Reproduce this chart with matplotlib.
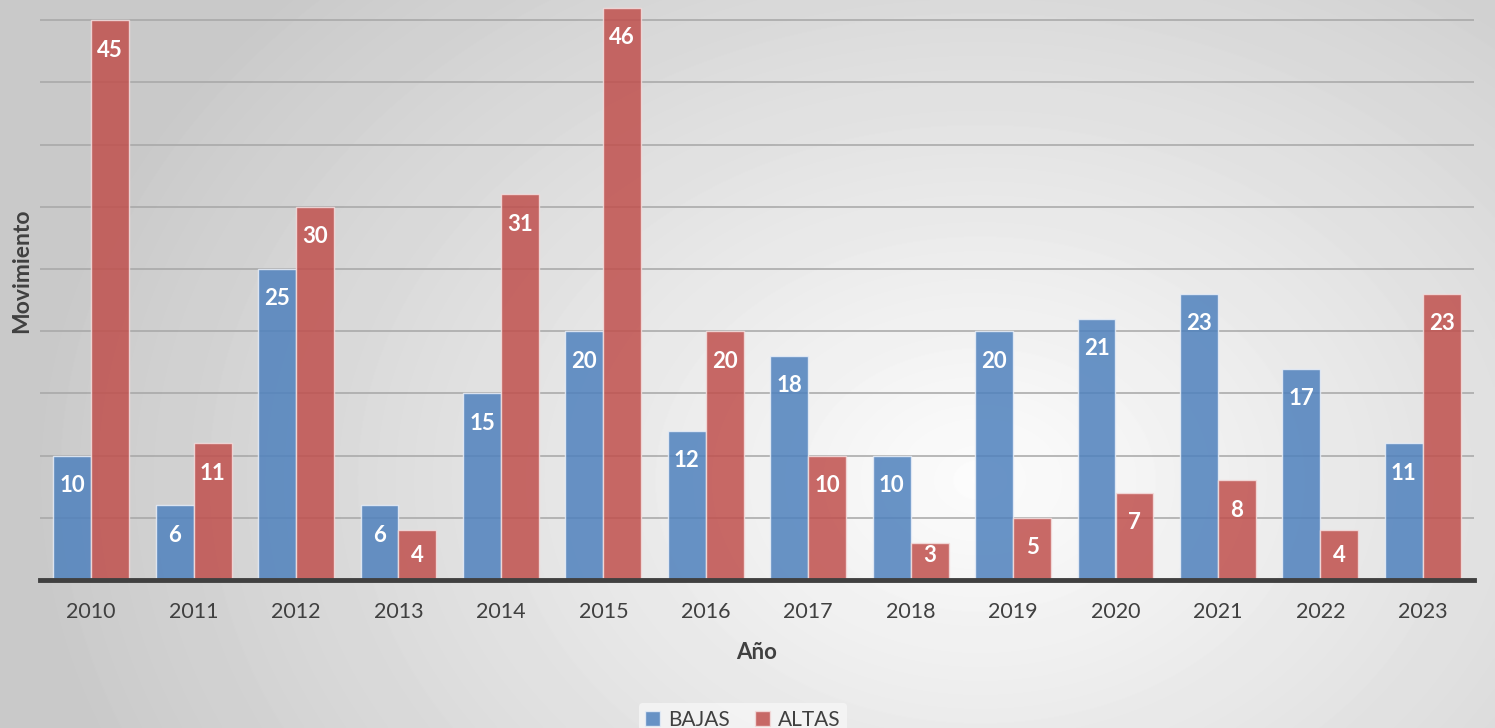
import numpy as np
import matplotlib.pyplot as plt

years = ['2010', '2011', '2012', '2013', '2014', '2015', '2016',
         '2017', '2018', '2019', '2020', '2021', '2022', '2023']
bajas = [10, 6, 25, 6, 15, 20, 12, 18, 10, 20, 21, 23, 17, 11]
altas = [45, 11, 30, 4, 31, 46, 20, 10, 3, 5, 7, 8, 4, 23]

plt.rcParams['font.family'] = ['Lato', 'DejaVu Sans']

W, H = 1495, 728
fig = plt.figure(figsize=(W / 100, H / 100), dpi=100)

# radial grey background, lighter towards the middle-right
bg = fig.add_axes([0, 0, 1, 1], zorder=-10)
yy, xx = np.mgrid[0:H, 0:W]
d = np.sqrt(((xx - 980) / 1000.0) ** 2 + ((yy - 480) / 750.0) ** 2)
shade = np.clip(0.99 - 0.21 * d, 0.79, 0.99)
bg.imshow(shade, cmap='gray', vmin=0, vmax=1, aspect='auto', interpolation='bilinear')
bg.axis('off')

ax = fig.add_axes([40 / W, (H - 580) / H, 1434 / W, 580 / H])
ax.patch.set_alpha(0)

x = np.arange(len(years))
bw = 0.37
blue = '#4f81bd'
red = '#c0504d'
b1 = ax.bar(x - bw / 2, bajas, bw, color=blue, alpha=0.85,
            edgecolor='#e8eef8', linewidth=1.0, zorder=3, label='BAJAS')
b2 = ax.bar(x + bw / 2, altas, bw, color=red, alpha=0.85,
            edgecolor='#f4dede', linewidth=1.0, zorder=3, label='ALTAS')

ymax = 580 / 12.44
ax_h_pt = 580 * 0.72
for bars, vals in [(b1, bajas), (b2, altas)]:
    for rect, v in zip(bars, vals):
        # inside-end label, but kept inside short bars
        bar_pt = v / ymax * ax_h_pt
        off = min(21.5, bar_pt - 18)
        ax.annotate(str(v), xy=(rect.get_x() + rect.get_width() / 2, v),
                    xytext=(0, -off), textcoords='offset points',
                    ha='center', va='center', color='white',
                    fontsize=16, fontweight='bold', zorder=5)

ax.set_xlim(-0.5, len(years) - 0.5)
ax.set_ylim(0, ymax)
ax.set_yticks(np.arange(5, 46, 5))
ax.yaxis.grid(True, color='#a6a6a6', linewidth=1.1, zorder=0)
ax.tick_params(axis='y', length=0, labelleft=False)
ax.set_xticks(x)
ax.set_xticklabels(years, fontsize=15.5, color='#404040')
ax.tick_params(axis='x', length=0, pad=16)
for s in ['top', 'right', 'left']:
    ax.spines[s].set_visible(False)
ax.spines['bottom'].set_color('#404040')
ax.spines['bottom'].set_linewidth(3.5)
ax.spines['bottom'].set_zorder(6)

ax.set_xlabel('Año', fontsize=16, fontweight='bold', color='#404040', labelpad=14)
ax.set_ylabel('Movimiento', fontsize=16.5, fontweight='bold', color='#404040')
ax.yaxis.set_label_coords(-0.0055, 0.534)

leg = fig.legend(handles=[b1, b2], loc='lower center', bbox_to_anchor=(0.497, -0.025),
                 ncol=2, frameon=True, fontsize=15, handlelength=0.7, handleheight=0.7,
                 handletextpad=0.4, columnspacing=1.2, borderpad=0.3)
leg.get_frame().set_facecolor('#f6f6f6')
leg.get_frame().set_edgecolor('none')
leg.get_frame().set_alpha(0.8)
for t in leg.get_texts():
    t.set_color('#404040')

fig.savefig('out.png', dpi=100)
